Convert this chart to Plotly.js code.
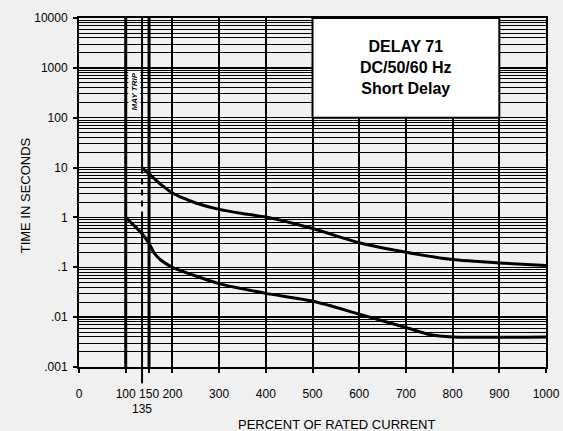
<!DOCTYPE html>
<html>
<head>
<meta charset="utf-8">
<script src="https://cdn.plot.ly/plotly-3.0.1.min.js"></script>
<style>html,body{margin:0;padding:0;background:#f0f0f0;}#chart{width:563px;height:431px;}</style>
</head>
<body>
<div id="chart"></div>
<script>
// Upper curve (maximum clearing time)
const upperX = [135, 150, 175, 200, 225, 250, 300, 350, 400, 500, 600, 700, 800, 900, 1000];
const upperY = [10, 7.5, 4.6, 3.1, 2.4, 1.95, 1.45, 1.2, 1.02, 0.6, 0.31, 0.2, 0.143, 0.122, 0.108];
// Lower curve (minimum time)
const lowerX = [100, 135, 150, 160, 175, 200, 250, 300, 400, 500, 600, 700, 750, 800, 1000];
const lowerY = [1, 0.47, 0.3, 0.2, 0.14, 0.1, 0.067, 0.047, 0.03, 0.021, 0.0115, 0.0062, 0.0045, 0.004, 0.004];

const xTickVals = [0, 100, 150, 200, 300, 400, 500, 600, 700, 800, 900, 1000];
const xTickText = ['0', '100', '150', '200', '300', '400', '500', '600', '700', '800', '900', '1000'];
const yTickVals = [0.001, 0.01, 0.1, 1, 10, 100, 1000, 10000];
const yTickText = ['.001', '.01', '.1', '1', '10', '100', '1000', '10000'];

const thickLines = [100, 150];     // heavy reference lines
const mayTripLine = 135;           // may-trip boundary
const dashFrom = 10, dashTo = 1;   // dashed section of the 135 line
const boxX = [500, 900];           // title box span (percent)
const boxYTop = 10000, boxYBottom = 100;
const titleLines = ['DELAY 71', 'DC/50/60 Hz', 'Short Delay'];

const yMinLog = -3, yMaxLog = 4;
const toPaper = v => (Math.log10(v) - yMinLog) / (yMaxLog - yMinLog);

const minorVals = [];
for (let e = yMinLog; e < yMaxLog; e++) for (let m = 2; m <= 9; m++) minorVals.push(m * Math.pow(10, e));

const font = {family: 'Liberation Sans, Arial, sans-serif', color: '#000'};

const traces = [
  {x: upperX, y: upperY, mode: 'lines', line: {color: '#000', width: 3, shape: 'spline', smoothing: 0.5}, hoverinfo: 'skip'},
  {x: lowerX, y: lowerY, mode: 'lines', line: {color: '#000', width: 3, shape: 'spline', smoothing: 0.5}, hoverinfo: 'skip'}
];

const shapes = [];
shapes.push({type: 'rect', xref: 'x', yref: 'paper', x0: boxX[0], x1: boxX[1], y0: toPaper(boxYBottom), y1: toPaper(boxYTop), fillcolor: '#fff', line: {color: '#000', width: 2}, layer: 'above'});
thickLines.forEach(v => shapes.push({type: 'line', xref: 'x', yref: 'paper', x0: v, x1: v, y0: 0, y1: 1, line: {color: '#000', width: 3}, layer: 'above'}));
shapes.push({type: 'line', xref: 'x', yref: 'paper', x0: mayTripLine, x1: mayTripLine, y0: toPaper(dashFrom), y1: 1, line: {color: '#000', width: 2}, layer: 'above'});
shapes.push({type: 'line', xref: 'x', yref: 'paper', x0: mayTripLine, x1: mayTripLine, y0: toPaper(dashFrom), y1: toPaper(dashTo), line: {color: '#000', width: 2, dash: '6px,5px'}, layer: 'above'});
shapes.push({type: 'line', xref: 'x', yref: 'paper', x0: mayTripLine, x1: mayTripLine, y0: -0.047, y1: toPaper(dashTo), line: {color: '#000', width: 2}, layer: 'above'});

const annotations = [
  {xref: 'x', yref: 'paper', x: (boxX[0] + boxX[1]) / 2, y: (toPaper(boxYBottom) + toPaper(boxYTop)) / 2, text: titleLines.map(t => '<b>' + t + '</b>').join('<br>'), showarrow: false, font: Object.assign({}, font, {size: 16}), align: 'center', xanchor: 'center', yanchor: 'middle'},
  {xref: 'x', yref: 'paper', x: 118, y: 0.79, text: '<b><i>MAY TRIP</i></b>', textangle: -90, showarrow: false, font: Object.assign({}, font, {size: 8}), bgcolor: '#fff', borderpad: 1, xanchor: 'center', yanchor: 'middle'},
  {xref: 'x', yref: 'paper', x: mayTripLine, y: -0.121, text: String(mayTripLine), showarrow: false, font: Object.assign({}, font, {size: 12}), xanchor: 'center', yanchor: 'middle'},
  {xref: 'paper', yref: 'paper', x: 0.551, y: -0.164, text: 'PERCENT OF RATED CURRENT', showarrow: false, font: Object.assign({}, font, {size: 13}), xanchor: 'center', yanchor: 'middle'},
  {xref: 'paper', yref: 'paper', x: -0.1156, y: 0.492, text: 'TIME IN SECONDS', textangle: -90, showarrow: false, font: Object.assign({}, font, {size: 13}), xanchor: 'center', yanchor: 'middle'}
];

const layout = {
  width: 563, height: 431,
  margin: {l: 79, r: 17, t: 18, b: 64},
  paper_bgcolor: '#f0f0f0', plot_bgcolor: '#f0f0f0',
  showlegend: false,
  font: Object.assign({}, font, {size: 12}),
  xaxis: {
    range: [0, 1000], tickmode: 'array', tickvals: xTickVals, ticktext: xTickText,
    showgrid: true, gridcolor: '#000', gridwidth: 2, zeroline: false,
    showline: true, linecolor: '#000', linewidth: 2, mirror: true,
    ticks: 'outside', ticklen: 4, tickwidth: 2, tickcolor: '#000', ticklabelstandoff: 11
  },
  yaxis: {
    type: 'log', range: [yMinLog, yMaxLog], tickmode: 'array', tickvals: yTickVals, ticktext: yTickText,
    showgrid: true, gridcolor: '#000', gridwidth: 1.5, zeroline: false,
    showline: true, linecolor: '#000', linewidth: 2, mirror: true,
    ticks: 'outside', ticklen: 4, tickwidth: 2, tickcolor: '#000', ticklabelstandoff: 3,
    minor: {tickmode: 'array', tickvals: minorVals, showgrid: true, gridcolor: '#000', gridwidth: 1, ticks: ''}
  },
  shapes: shapes,
  annotations: annotations
};

Plotly.newPlot('chart', traces, layout, {staticPlot: true, displayModeBar: false});
</script>
</body>
</html>
